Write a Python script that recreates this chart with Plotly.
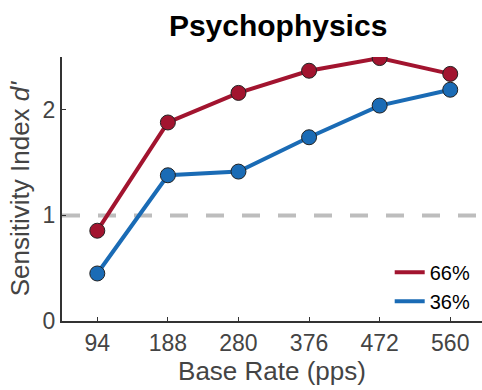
import plotly.graph_objects as go

base_rates = ["94", "188", "280", "376", "472", "560"]
d_66 = [0.855, 1.88, 2.16, 2.37, 2.49, 2.34]
d_36 = [0.45, 1.38, 1.415, 1.74, 2.04, 2.19]
labels = ["66%", "36%"]
colors = ["#A2142F", "#1A6BB5"]
chance = 1.0

pos = list(range(1, len(base_rates) + 1))
fig = go.Figure()

fig.add_shape(type="line", xref="paper", x0=0, x1=1, yref="y", y0=chance, y1=chance,
              line=dict(color="#BDBDBD", width=4, dash="18px,18px"), layer="below")

for vals, name, col in zip([d_66, d_36], labels, colors):
    fig.add_trace(go.Scatter(x=pos, y=vals, mode="lines+markers", showlegend=False,
                             line=dict(color=col, width=4),
                             marker=dict(size=15, color=col, line=dict(color="#222", width=1))))
for name, col in zip(labels, colors):
    fig.add_trace(go.Scatter(x=[None], y=[None], mode="lines", name=name,
                             line=dict(color=col, width=4)))

fig.update_layout(
    width=482, height=390,
    margin=dict(l=62, r=0, t=57, b=69),
    paper_bgcolor="white", plot_bgcolor="white",
    font=dict(family="Liberation Sans, Arial, sans-serif", color="#444"),
    title=dict(text="<b>Psychophysics</b>", x=0.577, xanchor="center", y=0.935, yanchor="middle",
               font=dict(size=30, color="black")),
    xaxis=dict(range=[0.5, 6.45], tickmode="array", tickvals=pos, ticktext=base_rates,
               showline=True, linecolor="#333", linewidth=2, ticks="inside", ticklen=4,
               tickcolor="#333", showgrid=False, zeroline=False,
               tickfont=dict(size=23, color="#444"),
               title=dict(text="Base Rate (pps)", font=dict(size=26, color="#444"), standoff=6)),
    yaxis=dict(range=[0, 2.5], tickvals=[0, 1, 2],
               showline=True, linecolor="#333", linewidth=2, ticks="inside", ticklen=4,
               tickcolor="#333", showgrid=False, zeroline=False,
               tickfont=dict(size=23, color="#444"),
               title=dict(text="Sensitivity Index <i>d'</i>", font=dict(size=26, color="#444"), standoff=6)),
    legend=dict(x=0.985, xanchor="right", y=0.13, yanchor="middle", bgcolor="rgba(0,0,0,0)",
                font=dict(size=20, color="black"), itemwidth=30, tracegroupgap=0),
)

fig.write_html("out.html")
